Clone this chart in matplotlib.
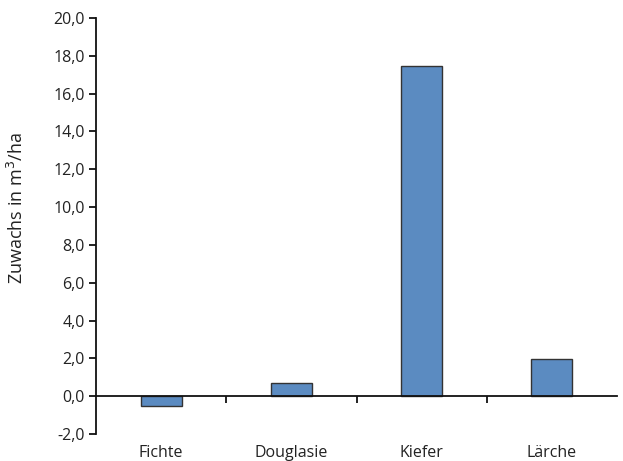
import matplotlib
matplotlib.use("Agg")
import matplotlib.pyplot as plt
import matplotlib.transforms as mtransforms

categories = ["Fichte", "Douglasie", "Kiefer", "Lärche"]
values = [-0.5, 0.7, 17.45, 1.95]
yticks = [-2, 0, 2, 4, 6, 8, 10, 12, 14, 16, 18, 20]
ytick_labels = ["-2,0", "0,0", "2,0", "4,0", "6,0", "8,0", "10,0", "12,0", "14,0", "16,0", "18,0", "20,0"]

plt.rcParams['font.family'] = ['Open Sans', 'DejaVu Sans']
txt = "#222222"

fig = plt.figure(figsize=(6.23, 4.61), dpi=100)
ax = fig.add_axes([96/623, 1-434/461, (617-96)/623, (434-18)/461])

x = list(range(len(categories)))
ax.bar(x, values, width=0.315, color="#5b8bc1", edgecolor="#333333", linewidth=1.0, zorder=3)

ax.set_xlim(-0.5, len(categories)-0.5)
ax.set_ylim(-2, 20)
ax.set_yticks(yticks)
ax.set_yticklabels(ytick_labels, fontsize=11.5, color=txt)
ax.tick_params(axis='y', direction='out', length=5, width=1.3, color="#111111", pad=3)

for s in ["top", "right"]:
    ax.spines[s].set_visible(False)
ax.spines["left"].set_linewidth(1.3)
ax.spines["left"].set_color("#111111")
ax.spines["bottom"].set_position(("data", 0))
ax.spines["bottom"].set_linewidth(1.3)
ax.spines["bottom"].set_color("#111111")
ax.spines["bottom"].set_zorder(4)

ax.set_xticks([i + 0.5 for i in x[:-1]])
ax.set_xticklabels([])
ax.tick_params(axis='x', direction='out', length=5, width=1.3, color="#111111")

trans = mtransforms.blended_transform_factory(ax.transData, fig.transFigure)
for i, c in enumerate(categories):
    ax.text(i, 1-453/461, c, transform=trans, ha="center", va="center", fontsize=11.5, color=txt)

fig.text(17/623, 1-208/461, "Zuwachs in m$^3$/ha", rotation=90, ha="center", va="center",
         fontsize=13, color=txt)

fig.savefig("out.png", dpi=100)
